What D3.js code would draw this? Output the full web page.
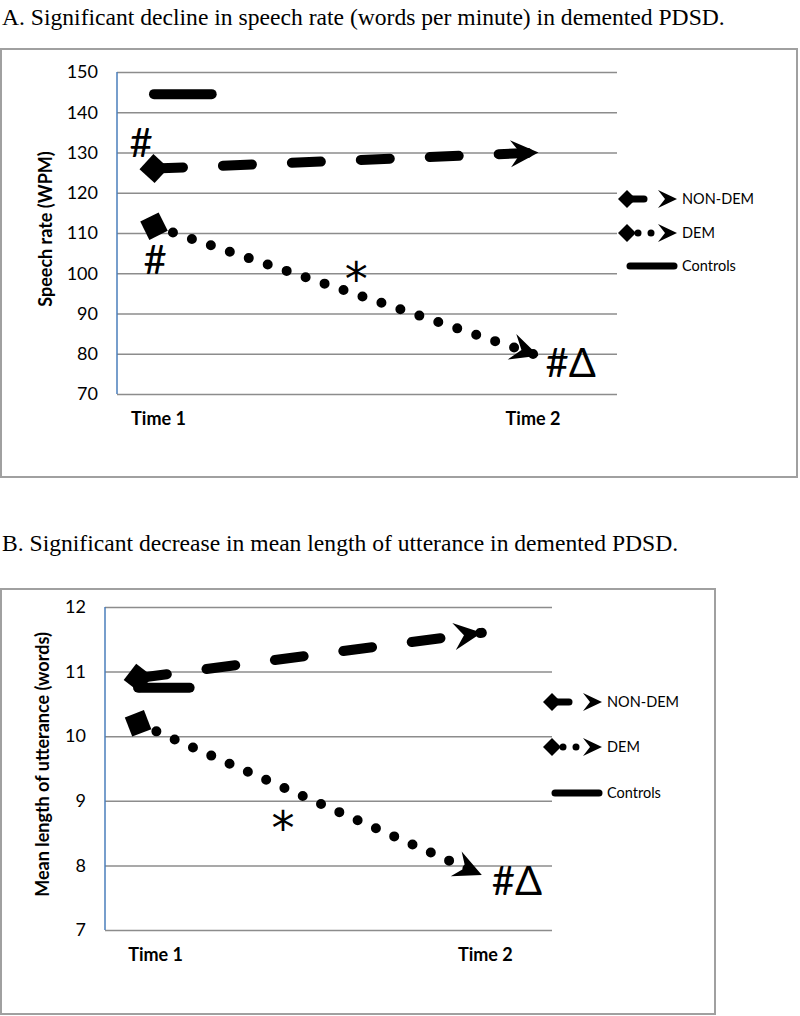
<!DOCTYPE html>
<html>
<head>
	<title>PDSD speech charts</title>
	<script src="https://d3js.org/d3.v7.min.js"></script>
	<style>
	body { margin: 0; background: #fff; }
	svg { display: block; }
	</style>
</head>
<body>
</body>

<script type="text/javascript">

// data
const categories = ["Time 1", "Time 2"]
const legendLabels = ["NON-DEM", "DEM", "Controls"]

const rateTicks = [70, 80, 90, 100, 110, 120, 130, 140, 150]
const rateNonDem = [126, 130]
const rateDem = [111.7, 79.5]
const rateControls = [144.5]

const mluTicks = [7, 8, 9, 10, 11, 12]
const mluNonDem = [10.9, 11.6]
const mluDem = [10.2, 7.85]
const mluControls = [10.75]

const sans = "Lato, 'DejaVu Sans', sans-serif"
const serif = "'Liberation Serif', 'Times New Roman', serif"

const width = 800
const height = 1016

const svg = d3.select("body").append("svg")
	.attr("width", width)
	.attr("height", height)

const panels = [
	{
		title: "A.  Significant decline in speech rate (words per minute) in demented PDSD.",
		titleY: 25,
		frame: [1, 49, 796, 428],
		plot: {left: 117, right: 617, top: 72, bottom: 394},
		ticks: rateTicks,
		nonDem: rateNonDem, dem: rateDem, controls: rateControls,
		labelShift: [4, -6],
		yTitle: "Speech rate (WPM)",
		yTitleX: 46,
		legendX: 618,
		legendY: [199, 233, 266],
		notes: [
			{text: "#", on: "nonDem", i: 0, dx: -13, dy: -12, anchor: "middle"},
			{text: "#", on: "dem", i: 0, dx: 1, dy: 48, anchor: "middle"},
			{text: "*", on: "demMid", dx: 10, dy: 4, anchor: "middle"},
			{text: "#\u0394", on: "dem", i: 1, dx: 7, dy: 21, anchor: "start"}
		]
	},
	{
		title: "B.  Significant decrease in mean length of utterance in demented PDSD.",
		titleY: 551,
		frame: [1, 589, 714, 425],
		plot: {left: 105, right: 552, top: 607, bottom: 930},
		ticks: mluTicks,
		nonDem: mluNonDem, dem: mluDem, controls: mluControls,
		labelShift: [17, 3],
		yTitle: "Mean length of utterance (words)",
		yTitleX: 43,
		legendX: 543,
		legendY: [702, 747, 793],
		notes: [
			{text: "*", on: "demMid", dx: -27, dy: 45, anchor: "middle"},
			{text: "#\u0394", on: "dem", i: 1, dx: 10, dy: 20, anchor: "start"}
		]
	}
]

// arrow head pointing along +x with the tip at 0,0
function arrowPath(len, half, notch)
{
	return "M0,0 L" + (-len) + "," + (-half) + " L" + (-notch) + ",0 L" + (-len) + "," + half + " Z"
}

function diamondPath(r)
{
	return "M" + (-r) + ",0 L0," + (-r) + " L" + r + ",0 L0," + r + " Z"
}

panels.forEach(function(p)
{
	const g = svg.append("g")

	g.append("text")
		.attr("x", 2)
		.attr("y", p.titleY)
		.attr("font-family", serif)
		.attr("font-size", 23.6)
		.attr("fill", "#000")
		.text(p.title)

	g.append("rect")
		.attr("x", p.frame[0])
		.attr("y", p.frame[1])
		.attr("width", p.frame[2])
		.attr("height", p.frame[3])
		.attr("fill", "none")
		.attr("stroke", "#a0a0a0")
		.attr("stroke-width", 2)

	const pl = p.plot
	const w = pl.right - pl.left

	const y = d3.scaleLinear()
		.domain(d3.extent(p.ticks))
		.range([pl.bottom, pl.top])

	const x = d3.scalePoint()
		.domain(categories)
		.range([pl.left + 0.074 * w, pl.left + 0.843 * w])

	// grid + tick labels
	const yAxis = g.append("g")
		.attr("transform", "translate(" + pl.left + ",0)")
		.call(d3.axisLeft(y).tickValues(p.ticks).tickSize(-w).tickPadding(19).tickFormat(d3.format("d")))
	yAxis.select(".domain").remove()
	yAxis.selectAll(".tick line")
		.attr("stroke", "#8c8c8c")
		.attr("stroke-width", 1.5)
	yAxis.selectAll(".tick text")
		.attr("font-family", sans)
		.attr("font-size", 18)
		.attr("fill", "#000")

	// blue value axis
	g.append("line")
		.attr("x1", pl.left).attr("x2", pl.left)
		.attr("y1", pl.top).attr("y2", pl.bottom)
		.attr("stroke", "#4a7ebb")
		.attr("stroke-width", 1.5)

	const xAxis = g.append("g")
		.attr("transform", "translate(0," + pl.bottom + ")")
		.call(d3.axisBottom(x).tickSize(0).tickPadding(18))
	xAxis.select(".domain").remove()
	xAxis.selectAll(".tick text")
		.attr("dx", function(d, i){ return p.labelShift[i] })
		.attr("font-family", sans)
		.attr("font-size", 18)
		.attr("font-weight", "bold")
		.attr("fill", "#000")

	g.append("text")
		.attr("transform", "translate(" + p.yTitleX + "," + ((pl.top + pl.bottom) / 2 - 4) + ") rotate(-90)")
		.attr("text-anchor", "middle")
		.attr("dy", "0.35em")
		.attr("font-family", sans)
		.attr("font-size", 18)
		.attr("font-weight", "bold")
		.text(p.yTitle)

	const line = d3.line()
		.x(function(d, i){ return x(categories[i]) })
		.y(function(d){ return y(d) })

	// controls: short thick bar at Time 1
	const c0 = x(categories[0])
	g.append("line")
		.attr("x1", c0).attr("x2", c0 + 0.15 * x.step())
		.attr("y1", y(p.controls[0])).attr("y2", y(p.controls[0]))
		.attr("stroke", "#000")
		.attr("stroke-width", 10)
		.attr("stroke-linecap", "round")

	const series = [
		{values: p.nonDem, dash: "29 40"},
		{values: p.dem, dash: "0 20"}
	]

	series.forEach(function(s)
	{
		g.append("path")
			.attr("d", line(s.values))
			.attr("fill", "none")
			.attr("stroke", "#000")
			.attr("stroke-width", 10)
			.attr("stroke-linecap", "round")
			.attr("stroke-dasharray", s.dash)

		const x0 = x(categories[0]), y0 = y(s.values[0])
		const x1 = x(categories[1]), y1 = y(s.values[1])
		const ang = Math.atan2(y1 - y0, x1 - x0) * 180 / Math.PI

		g.append("path")
			.attr("d", diamondPath(14.5))
			.attr("transform", "translate(" + x0 + "," + y0 + ") rotate(" + ang + ")")
			.attr("fill", "#000")

		g.append("path")
			.attr("d", arrowPath(28, 13.5, 18))
			.attr("transform", "translate(" + x1 + "," + y1 + ") rotate(" + ang + ")")
			.attr("fill", "#000")
	})

	// significance marks
	p.notes.forEach(function(n)
	{
		let px, py
		if(n.on == "demMid")
		{
			px = (x(categories[0]) + x(categories[1])) / 2
			py = (y(p.dem[0]) + y(p.dem[1])) / 2
		}
		else
		{
			px = x(categories[n.i])
			py = y(p[n.on][n.i])
		}
		const star = n.text == "*"
		g.append("text")
			.attr("x", px + n.dx)
			.attr("y", py + n.dy)
			.attr("text-anchor", n.anchor)
			.attr("font-family", star ? "'DejaVu Sans', sans-serif" : sans)
			.attr("font-size", star ? 46 : 40)
			.attr("fill", "#000")
			.text(n.text)
	})

	// legend
	const lx = p.legendX
	legendLabels.forEach(function(lab, i)
	{
		const ly = p.legendY[i]
		const lg = g.append("g")

		if(i < 2)
		{
			lg.append("path")
				.attr("d", diamondPath(9))
				.attr("transform", "translate(" + (lx + 9) + "," + ly + ")")
				.attr("fill", "#000")
			lg.append("path")
				.attr("d", arrowPath(19, 9, 12))
				.attr("transform", "translate(" + (lx + 59) + "," + ly + ")")
				.attr("fill", "#000")
		}
		if(i == 0)
		{
			lg.append("line")
				.attr("x1", lx + 12).attr("x2", lx + 26)
				.attr("y1", ly).attr("y2", ly)
				.attr("stroke", "#000")
				.attr("stroke-width", 7)
				.attr("stroke-linecap", "round")
		}
		else if(i == 1)
		{
			lg.selectAll("circle")
				.data([20, 33])
				.enter()
				.append("circle")
				.attr("cx", function(d){ return lx + d })
				.attr("cy", ly)
				.attr("r", 3.5)
				.attr("fill", "#000")
		}
		else
		{
			lg.append("line")
				.attr("x1", lx + 12).attr("x2", lx + 56)
				.attr("y1", ly).attr("y2", ly)
				.attr("stroke", "#000")
				.attr("stroke-width", 7)
				.attr("stroke-linecap", "round")
		}

		lg.append("text")
			.attr("x", lx + 64)
			.attr("y", ly)
			.attr("dy", "0.35em")
			.attr("font-family", sans)
			.attr("font-size", 14.5)
			.attr("fill", "#000")
			.text(lab)
	})
})

</script>
</html>
